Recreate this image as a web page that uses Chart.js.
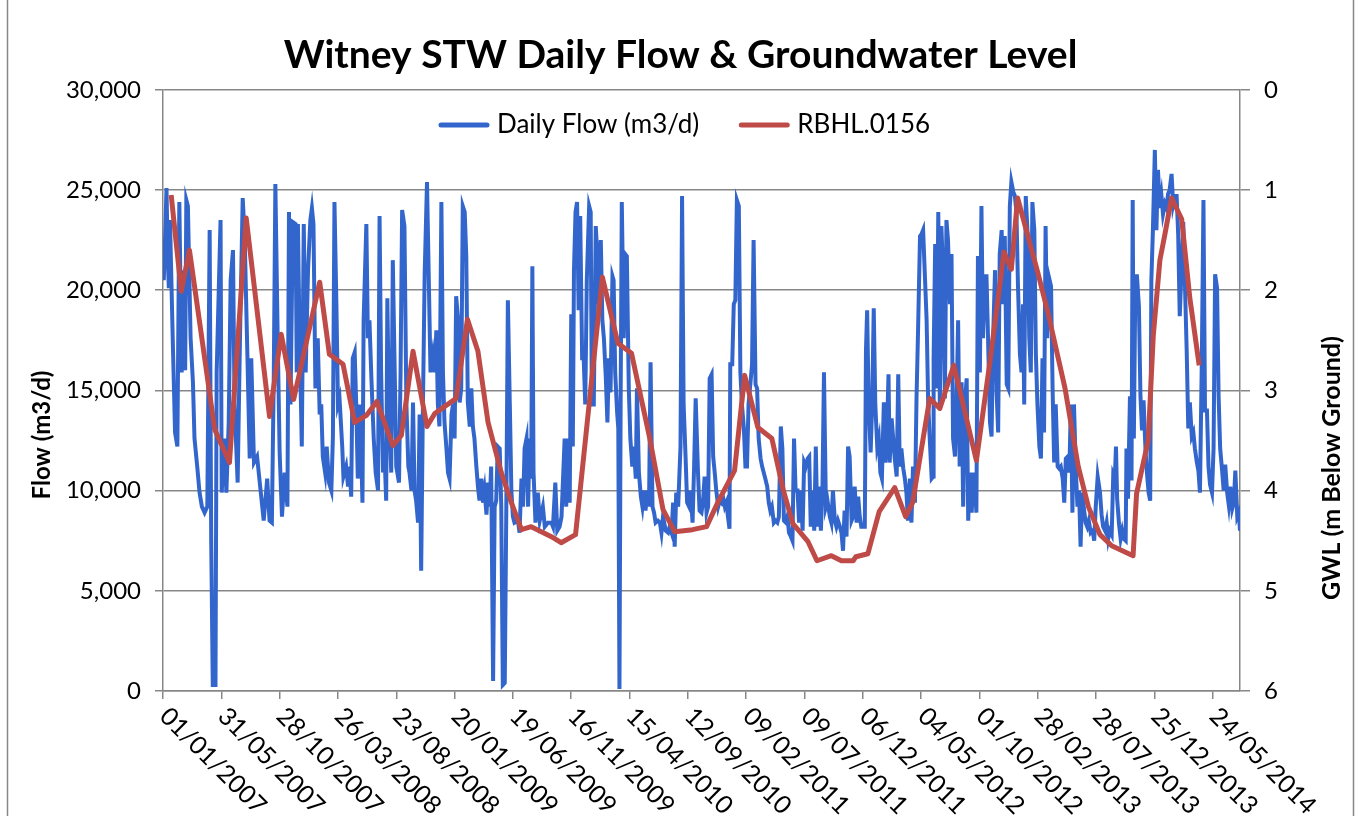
<!DOCTYPE html>
<html>
<head>
<meta charset="utf-8">
<title>Witney STW Daily Flow &amp; Groundwater Level</title>
<script src="https://cdn.jsdelivr.net/npm/chart.js@4.4.1/dist/chart.umd.min.js"></script>
<style>
  html, body { margin: 0; padding: 0; background: #fff; }
  #wrap { width: 1361px; height: 816px; }
</style>
</head>
<body>
<div id="wrap"><canvas id="flow-chart" width="1361" height="816"></canvas></div>
<script>
// Days counted from 01/01/2007
const startDate = Date.UTC(2007, 0, 1);
const chartTitle = "Witney STW Daily Flow & Groundwater Level";
const flowLabel = "Daily Flow (m3/d)";
const gwlLabel = "RBHL.0156";
const flowAxisTitle = "Flow (m3/d)";
const gwlAxisTitle = "GWL (m Below Ground)";

// Daily flow (m3/d) (peaks and troughs)
const flowDays = [
  2, 6, 9, 12, 15, 18, 25, 31, 37, 42, 48, 54, 57, 60, 64, 71, 77, 81, 88, 94, 100, 107, 114, 120, 124, 128, 135, 138, 148, 151,
  158, 163, 169, 174, 180, 184, 192, 198, 205, 210, 217, 223, 227, 234, 242, 251, 259, 268, 274, 280, 285, 289, 295, 300, 306, 313, 320, 324, 328, 334,
  341, 344, 347, 351, 357, 362, 367, 373, 379, 383, 387, 392, 398, 403, 407, 411, 417, 421, 427, 433, 437, 441, 446, 450,
  454, 461, 464, 471, 476, 480, 484, 488, 493, 497, 501, 507, 513, 516, 523, 527, 531, 536, 542, 547, 553, 557, 561, 566,
  570, 574, 577, 581, 587, 591, 596, 600, 607, 611, 615, 621, 626, 631, 634, 639, 643, 647, 651, 656, 660, 664, 668, 673, 679,
  688, 694, 699, 703, 707, 711, 716, 720, 724, 729, 733, 737, 742, 746, 750, 754, 759, 763, 767, 771, 776, 780, 784, 789,
  793, 797, 801, 806, 810, 814, 819, 823, 827, 832, 836, 840, 844, 849, 853, 857, 861, 866, 870, 874, 879, 883, 887, 892,
  896, 900, 904, 913, 917, 922, 926, 930, 935, 939, 943, 947, 950, 953, 958, 964, 969, 977, 982, 990, 999, 1003, 1009, 1014, 1020, 1025,
  1033, 1037, 1042, 1046, 1050, 1054, 1057, 1061, 1065, 1069, 1073, 1078, 1082, 1086, 1090, 1096, 1100, 1103,
  1108, 1113, 1117, 1121, 1126, 1130, 1134, 1139, 1143, 1147, 1151, 1156, 1159, 1163, 1168, 1171, 1174, 1177,
  1180, 1185, 1189, 1193, 1198, 1202, 1207, 1211, 1216, 1219, 1224, 1229, 1233, 1237, 1241, 1246, 1250, 1254,
  1259, 1263, 1267, 1273, 1278, 1282, 1286, 1293, 1299, 1303, 1308, 1312, 1316, 1320, 1325, 1331, 1335, 1339,
  1344, 1348, 1353, 1357, 1362, 1366, 1370,
  1376, 1380, 1385, 1389, 1393, 1398, 1402, 1406, 1411, 1415, 1419, 1423, 1428, 1432, 1436, 1440, 1445, 1449,
  1453, 1457, 1459, 1464, 1468, 1472, 1476, 1481, 1485, 1489, 1494, 1498, 1502, 1506, 1511, 1515, 1519, 1524,
  1528, 1532, 1537, 1541, 1545, 1549, 1554, 1558, 1562, 1566, 1571, 1575, 1580, 1584, 1589, 1593, 1597, 1602,
  1606, 1610, 1615, 1619, 1623, 1627, 1632, 1636, 1640, 1645, 1649, 1653, 1658, 1662, 1666, 1670, 1675, 1679,
  1683, 1688, 1692, 1696, 1700, 1705, 1709, 1715, 1719, 1723,
  1728, 1732, 1736, 1741, 1745, 1749, 1753, 1758, 1762, 1766, 1771, 1775, 1779, 1784, 1788, 1792, 1796, 1801,
  1805, 1808, 1811, 1815, 1820, 1824, 1828, 1832, 1837, 1841, 1845, 1849, 1854, 1858, 1862, 1866, 1869, 1874,
  1878, 1882, 1887, 1891, 1895, 1899, 1904, 1908, 1912, 1916, 1921, 1925, 1929, 1934, 1938, 1942, 1947, 1951,
  1955, 1959, 1964, 1968, 1972, 1977, 1981, 1982, 1986, 1990, 1994, 1998, 2002, 2006, 2011, 2015, 2019, 2024,
  2028, 2032, 2037, 2041, 2045, 2049, 2054, 2058, 2062, 2067, 2071,
  2075, 2080, 2084, 2088, 2092, 2096, 2101, 2105, 2109, 2114, 2118, 2122, 2127, 2131, 2135, 2140, 2144, 2148,
  2152, 2157, 2161, 2165, 2170, 2174, 2178, 2182, 2187, 2191, 2195, 2199, 2204, 2208, 2212, 2215, 2219, 2224,
  2228, 2232, 2236, 2241, 2245, 2249, 2254, 2258, 2262, 2266, 2270, 2274, 2278, 2284, 2288, 2292, 2296, 2301,
  2305, 2309, 2314, 2318, 2322, 2327, 2331, 2335, 2339, 2343, 2348, 2352, 2356, 2360, 2364, 2368, 2373, 2377,
  2381, 2386, 2391, 2395, 2399, 2404,
  2410, 2414, 2418, 2423, 2427, 2431, 2435, 2440, 2444, 2448, 2451, 2454, 2459, 2463, 2467, 2471, 2476, 2478,
  2482, 2487, 2491, 2494, 2497, 2501, 2505, 2510, 2514, 2518, 2522, 2527, 2531, 2535, 2539, 2542, 2546, 2551,
  2555, 2559, 2564, 2568, 2572, 2577, 2581, 2585, 2589, 2594, 2598, 2602, 2607, 2611, 2615, 2620, 2624, 2628,
  2633, 2637, 2641, 2646, 2650, 2654, 2659, 2663, 2667, 2672, 2676, 2680, 2685, 2689, 2693, 2698, 2702, 2706,
  2711, 2715, 2719, 2724, 2728, 2732, 2737, 2741, 2745, 2750, 2754, 2758, 2763, 2767, 2770
];
const flowValues = [
  20500, 23000, 25100, 21800, 20100, 23500, 17600, 12900, 12200, 24400, 15900, 21000, 16000, 24500, 24200, 17600, 15400, 12600, 11200, 9900, 9200, 8900, 9200, 23000, 7500, 300, 300, 15900, 23500, 9900,
  12600, 9900, 13400, 20500, 22000, 14300, 10400, 17600, 24600, 22700, 16800, 11600, 16600, 11400, 11700, 10000, 8500, 10600, 8500, 8400, 15900, 25300, 17600, 11900, 8700, 10900, 9200, 23900, 14300, 23400,
  23300, 15900, 23300, 18000, 12200, 23300, 15900, 21000, 23500, 24100, 23300, 15100, 17600, 13800, 14300, 11700, 10900, 12200, 10400, 10000, 12700, 24400, 19300, 14300,
  14600, 12200, 10700, 11200, 10200, 11200, 9700, 16600, 16900, 14300, 10600, 14300, 9400, 18500, 23300, 17600, 18500, 15600, 12600, 10900, 10000, 23700, 15900, 10900,
  11700, 9500, 19600, 14300, 10900, 21500, 15900, 11200, 10400, 15900, 24000, 23200, 14300, 11200, 10900, 10000, 14400, 10000, 9500, 8400, 13800, 6000, 13400, 20800, 25400,
  15900, 16800, 15900, 18000, 14300, 13200, 24400, 15900, 13400, 12100, 10900, 10600, 13800, 14300, 12600, 19700, 18500, 14400, 15100, 24200, 23900, 21700, 14400, 13200,
  15100, 13200, 12600, 11200, 10200, 9500, 10600, 9400, 10000, 8800, 10400, 9200, 11200, 500, 9200, 9500, 12200, 12100, 9200, 300, 400, 9200, 19500, 14300,
  10000, 8700, 8400, 8500, 7900, 10600, 9200, 12100, 12600, 9200, 12600, 10600, 21200, 10900, 8400, 9900, 8500, 9200, 8200, 8400, 8400, 8200, 10400, 8000, 8200, 8700,
  12600, 9200, 12600, 9400, 18800, 12200, 21000, 23900, 24400, 19000, 23700, 16600, 16600, 14300, 20500, 24200, 23900, 14300,
  14300, 23200, 21800, 19300, 22500, 18500, 17600, 15600, 13400, 16600, 14900, 20700, 20500, 15900, 13900, 13100, 100, 14300,
  24400, 17600, 21800, 21700, 15100, 12600, 11200, 12200, 10600, 15100, 10900, 9700, 9200, 10000, 9000, 10000, 9200, 16400,
  9200, 8900, 8400, 8500, 8400, 7900, 8700, 8000, 7900, 8200, 7900, 9400, 7200, 9900, 9200, 12200, 24700, 14300,
  11700, 9400, 9200, 10000, 8400, 11200, 14600,
  10900, 9000, 8900, 9500, 10700, 8900, 9200, 15600, 15800, 11700, 10900, 10000, 9200, 9500, 9400, 9700, 9200, 9400,
  8700, 8100, 16300, 16300, 19300, 19500, 24500, 24200, 15900, 14300, 13100, 11200, 11200, 14300, 15400, 16300, 22500, 15300,
  15100, 12600, 11600, 11200, 10900, 10600, 10200, 9400, 9000, 9200, 8400, 8500, 8400, 8700, 13200, 12100, 8500, 8400,
  8700, 7900, 7700, 7500, 12600, 10000, 10000, 8400, 10000, 8000, 11400, 11200, 11600, 11700, 8200, 10000, 8000, 12200,
  8200, 10200, 8000, 10000, 15900, 9200, 9500, 8700, 8400, 10000,
  8500, 8200, 8500, 8200, 7900, 7000, 9000, 7700, 12200, 11700, 8500, 8700, 10200, 8400, 9700, 8700, 8200, 8200,
  8200, 17000, 19000, 14300, 11900, 14300, 19100, 14300, 12200, 12600, 10900, 10600, 14400, 11400, 12900, 15800, 11400, 13600,
  12600, 11600, 10700, 15800, 11200, 12100, 11100, 10600, 9900, 8500, 10600, 8400, 11200, 9400, 14600, 18000, 22700, 22800,
  23000, 21000, 18500, 14400, 12600, 10600, 10700, 16600, 22300, 15100, 23900, 14300, 23200, 21000, 14600, 23500, 22500, 19300,
  21800, 12600, 11700, 14300, 18500, 11200, 15400, 9200, 14300, 15600, 8500,
  10900, 8900, 10900, 10400, 8900, 21700, 15900, 24200, 17600, 20700, 20700, 17600, 13400, 12700, 17600, 21000, 14900, 12900,
  21800, 23000, 19300, 22700, 15300, 15100, 24200, 25400, 24900, 24700, 23900, 20200, 16800, 15900, 19300, 14300, 24700, 22700,
  17600, 15900, 24400, 23000, 16800, 14300, 12200, 11600, 16600, 12900, 23200, 17600, 20700, 20200, 15100, 11400, 14300, 11200,
  11100, 11200, 10600, 9400, 11600, 11700, 10900, 14300, 8900, 14300, 10900, 9200, 10000, 7200, 9900, 9200, 8400, 8200,
  8500, 7900, 8000, 7500, 9200, 10700,
  9900, 8800, 8200, 8000, 8400, 7600, 8000, 7800, 10800, 10600, 12200, 9600, 8300, 7600, 8000, 7600, 7500, 12100,
  9600, 14700, 10500, 24500, 12600, 20700, 20700, 19200, 14700, 13000, 14500, 12000, 10800, 9900, 9500, 20500, 23000, 27000,
  23000, 26000, 24100, 24700, 23800, 24300, 24100, 24800, 25000, 25800, 24300, 24700, 24700, 22800, 18700, 21200, 23400, 20600,
  16900, 13100, 14400, 12700, 12900, 12100, 11400, 11000, 9900, 16800, 24500, 14000, 14000, 11200, 10300, 9900, 12100, 20800,
  20100, 14700, 12100, 11000, 10000, 11300, 9900, 9300, 10200, 9100, 9400, 11000, 8700, 8900, 8000
];

// Groundwater level RBHL.0156 (m below ground)
const gwlDays = [
  21, 47, 68, 133, 171, 214, 274, 304, 336, 403, 428, 463, 493, 523, 550, 591, 613, 643, 679, 699,
  754, 783, 810, 836, 870, 896, 922, 947, 999, 1024, 1061, 1130, 1170, 1205, 1252, 1286, 1316, 1362, 1398, 1428,
  1470, 1496, 1530, 1566, 1595, 1620, 1659, 1682, 1719, 1745, 1775, 1782, 1813, 1842, 1882, 1910, 1928, 1972, 1998, 2034,
  2092, 2127, 2163, 2182, 2198, 2251, 2277, 2320, 2354, 2380, 2410, 2440, 2495, 2504, 2534, 2547, 2564, 2577, 2594, 2620,
  2641, 2665
];
const gwlValues = [
  1.05, 2.01, 1.60, 3.39, 3.72, 1.28, 3.26, 2.44, 3.09, 1.92, 2.64, 2.74, 3.32, 3.25, 3.11, 3.55, 3.45, 2.61, 3.36, 3.23,
  3.08, 2.29, 2.61, 3.32, 3.82, 4.12, 4.39, 4.36, 4.46, 4.52, 4.44, 1.87, 2.53, 2.63, 3.48, 4.19, 4.41, 4.39, 4.36, 4.11,
  3.80, 2.85, 3.37, 3.48, 3.99, 4.33, 4.51, 4.70, 4.65, 4.70, 4.70, 4.66, 4.63, 4.21, 3.97, 4.26, 4.12, 3.08, 3.18, 2.75,
  3.70, 2.71, 1.62, 1.79, 1.08, 1.84, 2.24, 2.98, 3.76, 4.16, 4.44, 4.55, 4.65, 4.03, 3.50, 2.45, 1.70, 1.44, 1.08, 1.29,
  2.08, 2.75
];

const FONT = 'Lato, "Noto Sans", sans-serif';
const axisGrey = "#878787";

function dayToLabel(day) {
  const d = new Date(startDate + day * 86400000);
  const dd = String(d.getUTCDate()).padStart(2, "0");
  const mm = String(d.getUTCMonth() + 1).padStart(2, "0");
  return dd + "/" + mm + "/" + d.getUTCFullYear();
}

// extra drawing: chart frame, rotated date labels, axis titles, legend inside the plot
const decorations = {
  id: "decorations",
  beforeDraw(chart) {
    const ctx = chart.ctx;
    ctx.save();
    ctx.strokeStyle = axisGrey;
    ctx.lineWidth = 1.5;
    ctx.beginPath();
    ctx.moveTo(7.5, 0); ctx.lineTo(7.5, chart.height);
    ctx.moveTo(1353.5, 0); ctx.lineTo(1353.5, chart.height);
    ctx.stroke();
    ctx.restore();
  },
  afterDraw(chart) {
    const ctx = chart.ctx;
    const xs = chart.scales.x;
    ctx.save();
    ctx.fillStyle = "#000";

    // date labels, running down to the right from each tick
    ctx.font = "25px " + FONT;
    ctx.textAlign = "left";
    ctx.textBaseline = "middle";
    xs.ticks.forEach((t, i) => {
      const px = xs.getPixelForTick(i);
      ctx.save();
      ctx.translate(px + 1, xs.top + 21);
      ctx.rotate(Math.PI / 4);
      ctx.fillText(dayToLabel(t.value), 0, 0);
      ctx.restore();
    });

    // axis titles
    ctx.textAlign = "center";
    ctx.font = "bold 24px " + FONT;
    ctx.save();
    ctx.translate(42, 435);
    ctx.rotate(-Math.PI / 2);
    ctx.fillText(flowAxisTitle, 0, 0);
    ctx.restore();
    ctx.font = "bold 25px " + FONT;
    ctx.save();
    ctx.translate(1332, 468);
    ctx.rotate(-Math.PI / 2);
    ctx.fillText(gwlAxisTitle, 0, 0);
    ctx.restore();

    // legend
    ctx.font = "26px " + FONT;
    ctx.textAlign = "left";
    let lx = 438;
    const ly = 125;
    chart.data.datasets.forEach(ds => {
      ctx.strokeStyle = ds.borderColor;
      ctx.lineWidth = 5;
      ctx.lineCap = "round";
      ctx.beginPath();
      ctx.moveTo(lx + 3, ly);
      ctx.lineTo(lx + 49, ly);
      ctx.stroke();
      ctx.fillText(ds.label, lx + 59, ly);
      lx += 59 + ctx.measureText(ds.label).width + 39;
    });
    ctx.restore();
  }
};

const canvas = document.getElementById("flow-chart");
new Chart(canvas, {
  type: "line",
  data: {
    datasets: [
      {
        label: flowLabel,
        data: flowDays.map((d, i) => ({ x: d, y: flowValues[i] })),
        yAxisID: "y",
        borderColor: "#3366cc",
        borderWidth: 4,
        pointRadius: 0,
        tension: 0,
        order: 2
      },
      {
        label: gwlLabel,
        data: gwlDays.map((d, i) => ({ x: d, y: gwlValues[i] })),
        yAxisID: "y2",
        borderColor: "#be4b48",
        borderWidth: 5,
        borderJoinStyle: "round",
        pointRadius: 0,
        tension: 0,
        order: 1
      }
    ]
  },
  options: {
    responsive: false,
    animation: false,
    devicePixelRatio: 1,
    layout: { padding: 0 },
    plugins: {
      legend: { display: false },
      tooltip: { enabled: false },
      title: {
        display: true,
        text: chartTitle,
        color: "#000",
        font: { family: FONT, size: 39, weight: "bold" },
        padding: { top: 32, bottom: 11 }
      }
    },
    scales: {
      x: {
        type: "linear",
        min: 0,
        max: 2770,
        afterFit: s => { s.height = 125; },
        ticks: { display: false, stepSize: 150, includeBounds: false },
        grid: { drawOnChartArea: false, color: axisGrey, lineWidth: 1.5, tickLength: 8 },
        border: { color: axisGrey, width: 1.5 }
      },
      y: {
        position: "left",
        min: 0,
        max: 30000,
        afterFit: s => { s.width = 163; },
        ticks: {
          stepSize: 5000,
          padding: 14,
          color: "#000",
          font: { family: FONT, size: 24 },
          callback: v => v.toLocaleString("en-US")
        },
        grid: { color: axisGrey, lineWidth: 1.5, tickLength: 8 },
        border: { color: axisGrey, width: 1.5 }
      },
      y2: {
        position: "right",
        min: 0,
        max: 6,
        reverse: true,
        afterFit: s => { s.width = 121; },
        ticks: {
          stepSize: 1,
          padding: 14,
          color: "#000",
          font: { family: FONT, size: 24 }
        },
        grid: { drawOnChartArea: false, color: axisGrey, lineWidth: 1.5, tickLength: 10 },
        border: { color: axisGrey, width: 1.5 }
      }
    }
  },
  plugins: [decorations]
});
</script>
</body>
</html>
